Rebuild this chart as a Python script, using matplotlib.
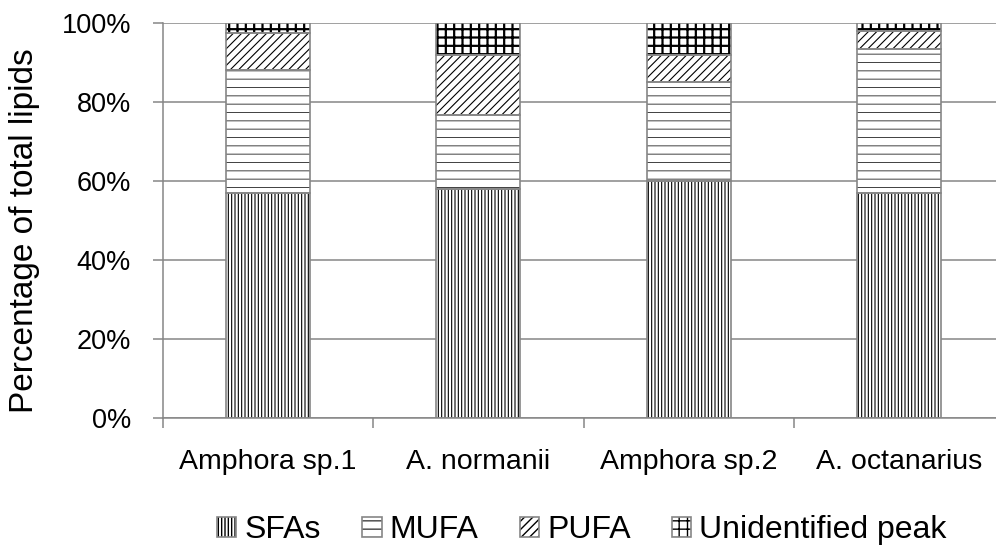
import matplotlib
matplotlib.use('Agg')
import matplotlib.pyplot as plt
import matplotlib.patches as mpatches
import numpy as np

# values (% of total lipids)
species = ['Amphora sp.1', 'A. normanii', 'Amphora sp.2', 'A. octanarius']
sfa = [57.0, 57.9, 60.1, 57.0]
mufa = [31.0, 18.7, 25.0, 36.3]
pufa = [9.5, 15.2, 6.7, 4.8]
unid = [2.5, 8.2, 8.2, 1.9]
series_names = ['SFAs', 'MUFA', 'PUFA', 'Unidentified peak']
yticks = [0, 20, 40, 60, 80, 100]

hatches = ['|||||', '--', '////', '++']
hatch_cols = ['black', '#404040', 'black', 'black']
hatch_lw = [0.8, 0.7, 0.8, 1.6]

plt.rcParams['font.family'] = ['Liberation Sans', 'DejaVu Sans']
grey = '#868686'

fig = plt.figure(figsize=(9.96, 5.5), dpi=100)
ax = fig.add_axes([163/996, 1-418/550, 841/996, 395/550])

x = np.arange(len(species))
bottom = np.zeros(len(species))
handles = []
for vals, name, h, hc, lw in zip([sfa, mufa, pufa, unid], series_names, hatches, hatch_cols, hatch_lw):
    with plt.rc_context({'hatch.linewidth': lw}):
        ax.bar(x, vals, 0.4, bottom=bottom, color='white', edgecolor=hc,
               linewidth=0, hatch=h, zorder=2)
        fill_patch = mpatches.Patch(facecolor='white', edgecolor=hc, linewidth=0, hatch=h)
    ax.bar(x, vals, 0.4, bottom=bottom, fill=False, edgecolor=grey, linewidth=1.2, zorder=3)
    edge_patch = mpatches.Patch(fill=False, edgecolor=grey, linewidth=1.2)
    handles.append((fill_patch, edge_patch))
    bottom += np.array(vals)

ax.set_xlim(-0.5, 3.5)
ax.set_ylim(0, 100)
ax.set_yticks(yticks)
ax.set_yticklabels([f'{v}%' for v in yticks])
ax.yaxis.grid(True, color=grey, linewidth=1.1)
ax.set_axisbelow(True)

for s in ['top', 'right']:
    ax.spines[s].set_visible(False)
for s in ['left', 'bottom']:
    ax.spines[s].set_color(grey)
    ax.spines[s].set_linewidth(1.1)

ax.set_xticks(x)
ax.set_xticklabels(species)
ax.set_xticks(np.arange(-0.5, 4, 1), minor=True)
ax.tick_params(axis='x', which='major', length=0, pad=22, labelsize=20.5)
ax.tick_params(axis='x', which='minor', length=7, width=1.1, color=grey)
ax.tick_params(axis='y', length=7, width=1.1, color=grey, pad=16, labelsize=19.5)

fig.text(25/996, 1-231/550, 'Percentage of total lipids', rotation=90,
         ha='center', va='center', fontsize=24)

fig.legend(handles=handles, labels=series_names, loc='center',
           bbox_to_anchor=(582/996, 1-530/550),
           ncol=4, frameon=False, fontsize=23, handlelength=0.6, handleheight=0.6,
           handletextpad=0.25, columnspacing=1.3)

fig.savefig('out.png', dpi=100)
